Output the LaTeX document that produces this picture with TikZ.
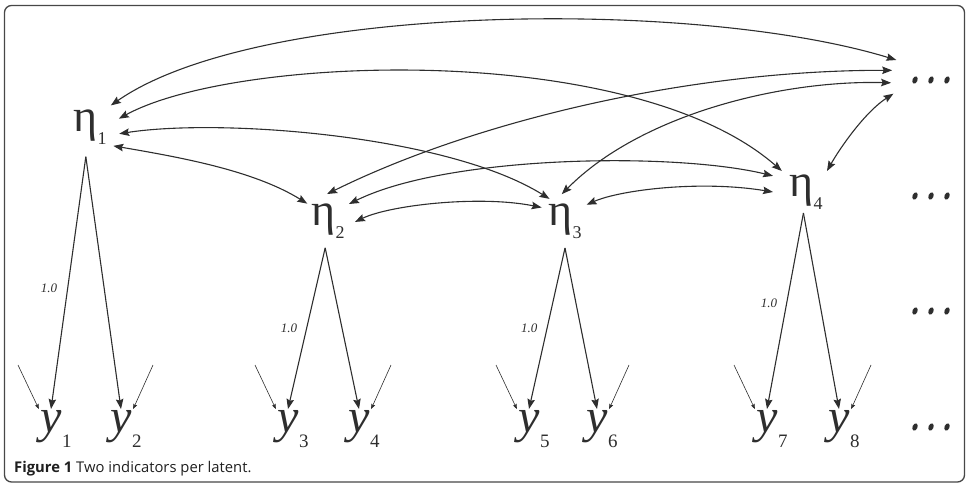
\documentclass[tikz,border=0pt]{standalone}
\usepackage{fontspec}
\setmainfont{Liberation Serif}
\newfontfamily\capfont{Open Sans}
\usetikzlibrary{arrows.meta,calc}
\definecolor{ink}{HTML}{2E2E2E}
\newcommand{\latnt}[1]{{\fontsize{46}{46}\selectfont η}\raisebox{-13pt}{\fontsize{18}{18}\selectfont #1}}
\newcommand{\indic}[1]{{\fontsize{48}{48}\selectfont\itshape y}\rlap{\kern0.5pt\raisebox{-15pt}{\fontsize{19}{19}\selectfont #1}}}
\tikzset{
  bigtip/.tip={Stealth[length=10pt,width=7.5pt,inset=1.5pt]},
  smalltip/.tip={Stealth[length=5pt,width=4pt,inset=0.8pt]},
  latc/.style={circle, minimum size=#1, inner sep=0pt, outer sep=0pt, text=ink},
  latr/.style={rectangle, minimum width=66pt, minimum height=42pt, inner sep=0pt, outer sep=0pt, text=ink},
  dotsnode/.style={circle, minimum size=80pt, inner sep=0pt, outer sep=0pt},
  indnode/.style={anchor=north, inner sep=1.5pt, outer sep=0pt, text=ink},
  dbl/.style={bigtip-bigtip, line width=1.1pt, draw=ink},
  load/.style={-bigtip, line width=1.1pt, draw=ink},
  err/.style={-smalltip, line width=0.6pt, draw=ink},
  lbl/.style={font=\fontsize{13}{13}\selectfont\itshape, text=ink, inner sep=0pt},
}
\begin{document}
\begin{tikzpicture}[x=1pt,y=-1pt]
\useasboundingbox (0,0) rectangle (969,484);
\draw[line width=1.3pt, black!72, rounded corners=7pt] (4.5,5.5) rectangle (964.5,482);

% latent variables
\node[latc=60pt] (h1) at (90,127) {\latnt{1}};
\node[latc=54pt] (h2) at (328,221) {\latnt{2}};
\node[latc=54pt] (h3) at (565,221) {\latnt{3}};
\node[latr] (h4) at (806,192) {\latnt{4}};

% ellipsis nodes
\node[dotsnode] (dA) at (931,80) {};
\node[dotsnode] (dB) at (931,196) {};
\node[dotsnode] (dC) at (931,311) {};
\node[dotsnode] (dD) at (931,427) {};
\foreach \d in {dA,dB,dC,dD}
  \foreach \dx in {-16,0,16}
    \fill[ink, shift={($(\d)+(\dx,0)$)}, rotate=-22] (0,0) ellipse [x radius=2.5pt, y radius=3.8pt];

% indicators
\node[indnode] (y1) at (51,409) {\indic{1}};
\node[indnode] (y2) at (121,409) {\indic{2}};
\node[indnode] (y3) at (288,409) {\indic{3}};
\node[indnode] (y4) at (359,409) {\indic{4}};
\node[indnode] (y5) at (529,409) {\indic{5}};
\node[indnode] (y6) at (597,409) {\indic{6}};
\node[indnode] (y7) at (767,409) {\indic{7}};
\node[indnode] (y8) at (839,409) {\indic{8}};

% covariances
\draw[dbl] (h1.46) .. controls (258,3) and (693,-2) .. (dA.150);
\draw[dbl] (h1.16) .. controls (235,55) and (632,40) .. (h4.139);
\draw[dbl] (h1.-13) .. controls (220,118) and (447,135) .. (h3.125);
\draw[dbl] (h1.-39) .. controls (178,157) and (253,170) .. (h2.140);
\draw[dbl] (h2.92) .. controls (477,120) and (692,70) .. (dA.166);
\draw[dbl] (h3.97) .. controls (640,115) and (780,80) .. (dA.184);
\draw[dbl] (h4.45) .. controls (840,148) and (865,112) .. (dA.200);
\draw[dbl] (h2.39) .. controls (448,155) and (675,152) .. (h4.154);
\draw[dbl] (h2.-2) .. controls (390,205) and (480,195) .. (h3.150);
\draw[dbl] (h3.37) .. controls (620,190) and (700,180) .. (h4.180);

% loadings
\draw[load] (h1.262) -- node[lbl, pos=0.52, left=10pt] {1.0} (y1.north);
\draw[load] (h1.262) -- (y2.north);
\draw[load] (h2.264) -- node[lbl, pos=0.5, left=9pt] {1.0} (y3.north);
\draw[load] (h2.264) -- (y4.north);
\draw[load] (h3.270) -- node[lbl, pos=0.5, left=9pt] {1.0} (y5.north);
\draw[load] (h3.270) -- (y6.north);
\draw[load] (h4.263) -- node[lbl, pos=0.46, left=9pt] {1.0} (y7.north);
\draw[load] (h4.263) -- (y8.north);

% errors
\coordinate (e1) at (18,365);
\coordinate (e2) at (153,365);
\coordinate (e3) at (255,365);
\coordinate (e4) at (391,365);
\coordinate (e5) at (496,365);
\coordinate (e6) at (629,365);
\coordinate (e7) at (734,365);
\coordinate (e8) at (871,365);
\draw[err] (e1) -- (y1.north west);
\draw[err] (e2) -- (y2.north east);
\draw[err] (e3) -- (y3.north west);
\draw[err] (e4) -- (y4.north east);
\draw[err] (e5) -- (y5.north west);
\draw[err] (e6) -- (y6.north east);
\draw[err] (e7) -- (y7.north west);
\draw[err] (e8) -- (y8.north east);

% caption
\node[anchor=base west, inner sep=0pt, text=black!88, font=\capfont\fontsize{14.8}{17}\selectfont] (cap) at (14,472) {\textbf{Figure 1} Two indicators per latent.};
\end{tikzpicture}
\end{document}
